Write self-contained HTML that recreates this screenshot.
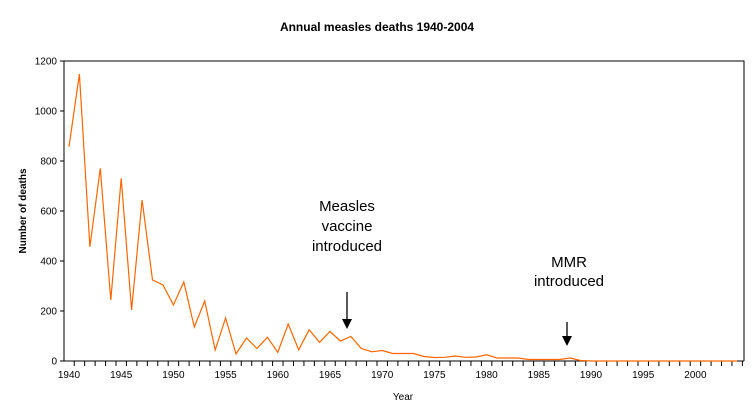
<!DOCTYPE html>
<html><head><style>
body{margin:0;background:#fff;}
svg{display:block;font-family:"Liberation Sans",Arial,sans-serif;}
</style></head><body>
<svg width="756" height="419" xmlns="http://www.w3.org/2000/svg">
<text x="377" y="31" font-size="12" font-weight="bold" text-anchor="middle">Annual measles deaths 1940-2004</text>
<g id="plot"></g>
<text x="26" y="211" font-size="10" font-weight="bold" text-anchor="middle" transform="rotate(-90 26 211)">Number of deaths</text>
<text x="403" y="400" font-size="10" text-anchor="middle">Year</text>
<g font-size="15" text-anchor="middle">
<text x="347" y="211">Measles</text>
<text x="347" y="231">vaccine</text>
<text x="347" y="251">introduced</text>
<text x="569" y="267">MMR</text>
<text x="569" y="286">introduced</text>
</g>
<line x1="347" y1="292" x2="347" y2="320" stroke="#000" stroke-width="1.3"/>
<polygon points="342,319 352,319 347,329" fill="#000"/>
<line x1="567" y1="322" x2="567" y2="337" stroke="#000" stroke-width="1.3"/>
<polygon points="562,336 572,336 567,346" fill="#000"/>
</svg>
<script>
var g=document.getElementById('plot'),ns='http://www.w3.org/2000/svg',h='';
var L=64,R=744,T=61,B=361;
h+='<polyline points="'+L+','+T+' '+R+','+T+' '+R+','+B+'" fill="none" stroke="#000" stroke-width="1"/>';
for(var v=0;v<=1200;v+=200){var y=B-v*0.25;h+='<line x1="'+(L-4)+'" y1="'+y+'" x2="'+L+'" y2="'+y+'" stroke="#000"/>';h+='<text x="'+(L-7)+'" y="'+(y+3.5)+'" font-size="10" text-anchor="end">'+v+'</text>';}
function X(yr){return 69+(yr-1940)*10.44;}
for(var yr=1940;yr<=2005;yr++){var x=X(yr)-5.2;if(x<L)continue;h+='<line x1="'+x+'" y1="'+B+'" x2="'+x+'" y2="'+(B+5)+'" stroke="#000"/>';}
for(var yr=1940;yr<=2000;yr+=5){h+='<text x="'+X(yr)+'" y="'+(B+17)+'" font-size="10" text-anchor="middle">'+yr+'</text>';}
var d=[857,1148,457,771,244,731,204,644,324,304,224,316,136,240,44,172,28,92,50,95,35,148,45,125,75,118,80,98,50,37,42,30,30,30,18,14,15,20,15,16,25,12,12,12,6,6,6,6,12,2];
while(d.length<65)d.push(0);
var p=d.map(function(v,i){return X(1940+i).toFixed(1)+','+(B-v*0.25).toFixed(1);}).join(' ');
h+='<line x1="'+L+'" y1="'+B+'" x2="'+R+'" y2="'+B+'" stroke="#000"/>';
h+='<line x1="'+L+'" y1="'+T+'" x2="'+L+'" y2="'+B+'" stroke="#000"/>';
h+='<polyline points="'+p+'" fill="none" stroke="#ff6600" stroke-width="1.2"/>';
g.innerHTML=h;
</script>
</body></html>
